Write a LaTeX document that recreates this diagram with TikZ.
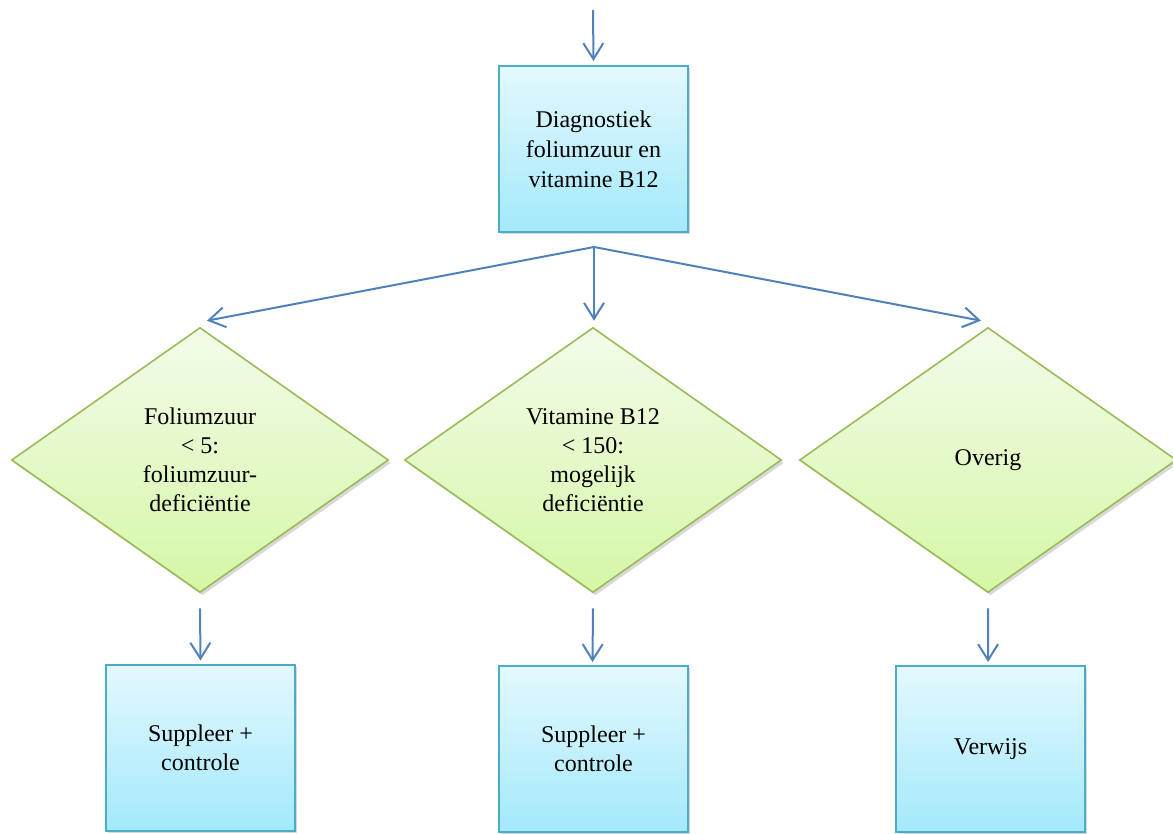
\documentclass[tikz,border=0pt]{standalone}
\usepackage{fontspec}
\setmainfont{Liberation Serif}
\usetikzlibrary{shapes,arrows.meta,shadows}
\definecolor{boxline}{HTML}{4BACC6}
\definecolor{boxtop}{HTML}{E4F8FE}
\definecolor{boxbottom}{HTML}{A3E9FB}
\definecolor{decline}{HTML}{9BBB59}
\definecolor{dectop}{HTML}{F3FBEA}
\definecolor{decbottom}{HTML}{D5F7A6}
\definecolor{arrowblue}{HTML}{4F81BD}
\tikzstyle{block} = [rectangle, draw=boxline, line width=1pt, align=center, minimum width=94.5pt, minimum height=83pt, top color=boxtop, bottom color=boxbottom, font=\fontsize{12}{14.5}\selectfont, drop shadow={shadow xshift=1.2pt, shadow yshift=-1.2pt, opacity=0.3}]
\tikzstyle{decision} = [diamond, draw=decline, line width=0.8pt, align=center, inner sep=0pt, minimum width=188.5pt, minimum height=132.5pt, top color=dectop, bottom color=decbottom, font=\fontsize{12}{14.5}\selectfont, drop shadow={shadow xshift=1.2pt, shadow yshift=-1.5pt, opacity=0.3}]
\tikzstyle{line} = [draw, arrowblue, line width=1pt, -{Straight Barb[length=8pt,width=10pt,line width=1pt]}]

\begin{document}
\begin{tikzpicture}[x=0.5pt, y=-0.5pt]
\useasboundingbox (0, 0) rectangle (1173, 834);

% diagnostiek
\coordinate (start) at (593, 10);
\node [block, font=\fontsize{12}{15}\selectfont] at (593.5, 149) (diag) {Diagnostiek\\foliumzuur en\\vitamine B12};
\path [line] (start) to ([yshift=2pt]diag.north);
\coordinate (split) at (594, 247);

% beslissingen
\node [decision] at (200, 460) (dfol) {Foliumzuur\\< 5:\\foliumzuur-\\deficiëntie};
\node [decision] at (593, 460) (dvit) {Vitamine B12\\< 150:\\mogelijk\\deficiëntie};
\node [decision] at (988, 460) (dove) {Overig};
\path [line] (split) to ([xshift=3.5pt, yshift=3pt]dfol.north);
\path [line] (split) to ([xshift=0.5pt, yshift=3pt]dvit.north);
\path [line] (split) to ([xshift=-3.5pt, yshift=3pt]dove.north);

% acties
\node [block] at (200.5, 747.5) (sfol) {Suppleer +\\controle};
\node [block] at (593.5, 749) (svit) {Suppleer +\\controle};
\node [block] at (990.5, 749) (verw) {Verwijs};
\path [line] ([yshift=-7.5pt]dfol.south) to ([yshift=1.5pt]sfol.north);
\path [line] ([yshift=-7.5pt]dvit.south) to ([xshift=-0.5pt, yshift=1.5pt]svit.north);
\path [line] ([yshift=-7.5pt]dove.south) to ([xshift=-1.2pt, yshift=1.5pt]verw.north);

\end{tikzpicture}
\end{document}
